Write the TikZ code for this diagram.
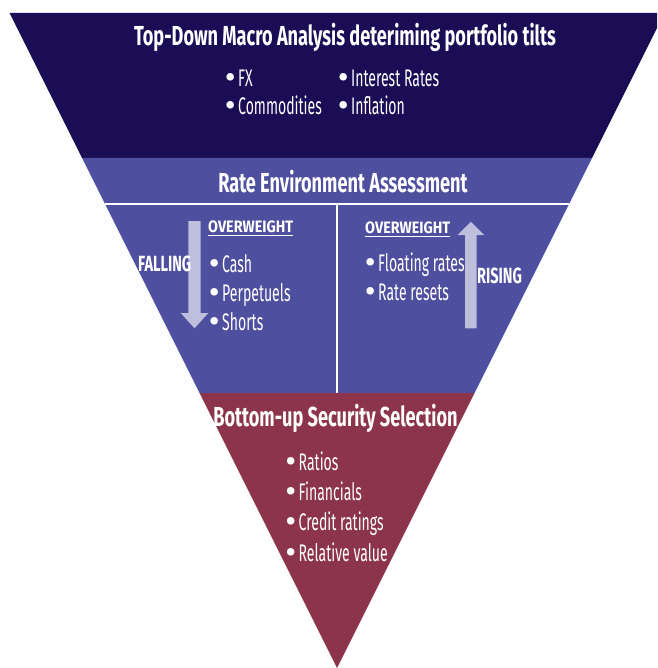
\documentclass[tikz,border=0pt]{standalone}
\usepackage{fontspec}
\setmainfont{Fira Sans}
\newfontfamily\hdfont[FakeStretch=0.66]{Fira Sans}
\newfontfamily\bdfont[FakeStretch=0.585]{Fira Sans}
\newfontfamily\owfont[FakeStretch=0.87]{Fira Sans}
\newcommand\bl{\makebox[12.5pt][l]{\normalfont\bfseries\fontsize{27}{27}\selectfont\textbullet}}
\definecolor{navy}{HTML}{1B0C56}
\definecolor{purp}{HTML}{4F4F9F}
\definecolor{burg}{HTML}{8C344B}
\definecolor{arr}{HTML}{BEBEDD}
\begin{document}
\begin{tikzpicture}[x=1pt,y=-1pt,
  base/.style={text=white,inner sep=0pt},
  head/.style={base,anchor=base,font=\hdfont\bfseries\fontsize{27.5}{30}\selectfont},
  item/.style={base,anchor=base west,font=\bdfont\fontsize{24}{26}\selectfont},
  tag/.style={base,anchor=base west,font=\hdfont\bfseries\fontsize{22}{24}\selectfont},
  ow/.style={base,anchor=base west,font=\owfont\bfseries\fontsize{16.5}{18}\selectfont},
  sep/.style={white,line width=1.3pt},
  arrowshape/.style={fill=arr}]
\useasboundingbox (0,0) rectangle (657,668);
\begin{scope}
\clip (0,0) rectangle (657,668);
\fill[navy] (9.5,13) -- (664.5,13) -- (592,158) -- (82,158) -- cycle;
\fill[purp] (82,158) -- (592,158) -- (474.5,393) -- (199.5,393) -- cycle;
\fill[burg] (199.5,393) -- (474.5,393) -- (337,668) -- cycle;
\end{scope}
\draw[sep] (105,204) -- (569,204);
\draw[sep] (337,204) -- (337,393);
% arrows
\fill[arrowshape] (188.3,221) -- (200.7,221) -- (200.7,313) -- (208.3,313) -- (194.5,328.3) -- (180.7,313) -- (188.3,313) -- cycle;
\fill[arrowshape] (465,328.3) -- (476.7,328.3) -- (476.7,235) -- (484,235) -- (470.8,221.7) -- (457.5,235) -- (465,235) -- cycle;
% top
\node[head] (t1) at (345,45.7) {Top-Down Macro Analysis deteriming portfolio tilts};
\node[item] (fx) at (225.5,86.7) {\bl FX};
\node[item] (com) at (225.5,115) {\bl Commodities};
\node[item] (ir) at (338.5,86.7) {\bl Interest Rates};
\node[item] (inf) at (338.5,115) {\bl Inflation};
% middle
\node[head] (t2) at (343,193) {Rate Environment Assessment};
\node[ow] (owl) at (208,232) {OVERWEIGHT};
\draw[white,line width=1pt] ([yshift=-3pt]owl.base west) -- ([yshift=-3pt]owl.base east);
\node[tag] (fall) at (138,271.7) {FALLING};
\node[item] (cash) at (209.5,272.7) {\bl Cash};
\node[item] (perp) at (209.5,301.7) {\bl Perpetuels};
\node[item] (sh) at (209.5,330.7) {\bl Shorts};
\node[ow] (owr) at (365,233) {OVERWEIGHT};
\draw[white,line width=1pt] ([yshift=-3pt]owr.base west) -- ([yshift=-3pt]owr.base east);
\node[item] (flt) at (365.5,271.7) {\bl Floating rates};
\node[item] (rr) at (365.5,300.7) {\bl Rate resets};
\node[tag] (rise) at (477,283) {RISING};
% bottom
\node[head] (t3) at (335.5,426) {Bottom-up Security Selection};
\node[item] (rat) at (286,470.7) {\bl Ratios};
\node[item] (fin) at (286,500.7) {\bl Financials};
\node[item] (cr) at (286,530.7) {\bl Credit ratings};
\node[item] (rv) at (286,561) {\bl Relative value};
\end{tikzpicture}
\end{document}
